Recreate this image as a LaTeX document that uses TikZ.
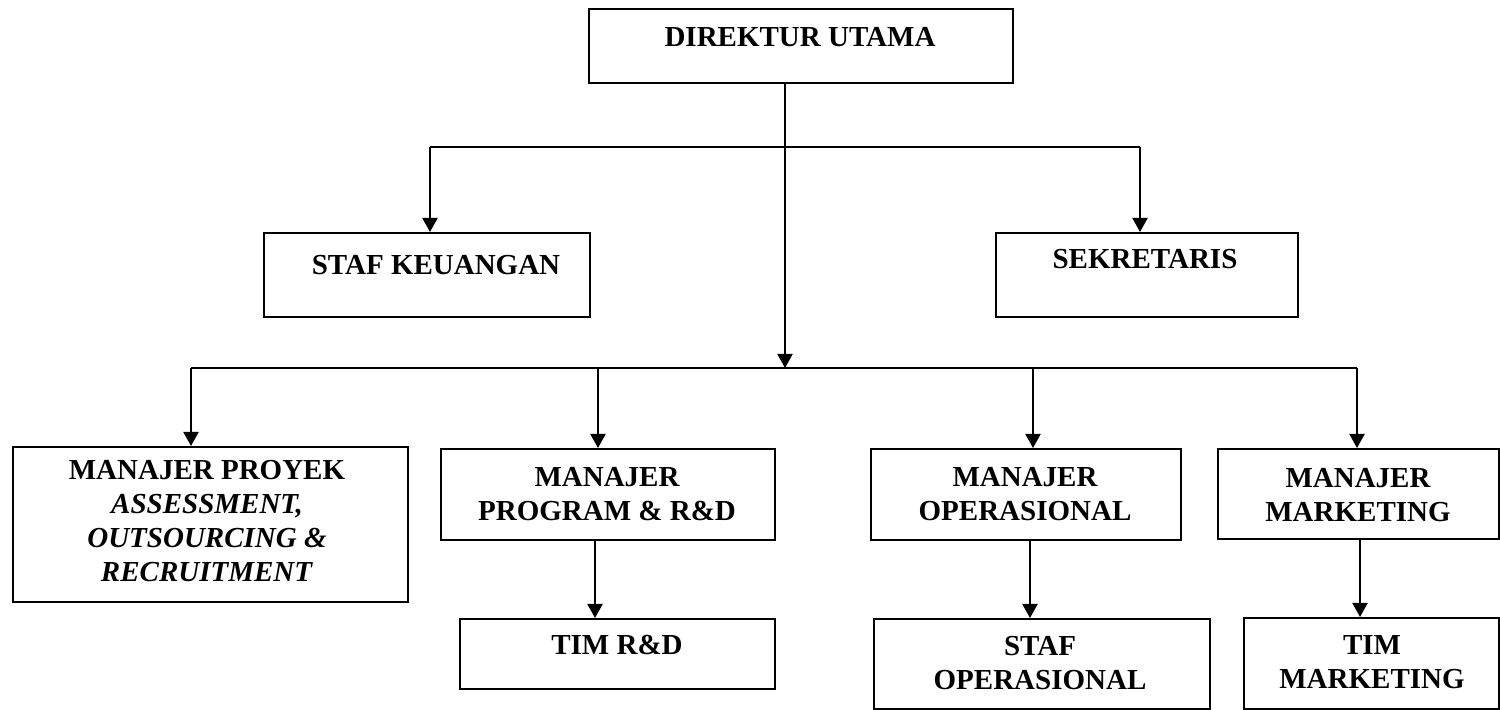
\documentclass[tikz,border=0pt]{standalone}
\usepackage{fontspec}
\setmainfont{Liberation Serif}
\usetikzlibrary{arrows.meta}
\begin{document}
\begin{tikzpicture}[x=0.5pt,y=-0.5pt,
  box/.style={draw, line width=1pt, inner sep=0pt, anchor=north west},
  lbl/.style={font=\bfseries\fontsize{14.5}{17}\selectfont, align=center, inner sep=0pt},
  conn/.style={line width=1pt},
  arr/.style={line width=1pt, -{Triangle[length=7pt,width=7.5pt]}}]
\useasboundingbox (0,0) rectangle (1500,710);

% boxes
\node[box, minimum width=212pt, minimum height=37pt] (du) at (588,8) {};
\node[box, minimum width=163pt, minimum height=42pt] (sk) at (263,232) {};
\node[box, minimum width=151pt, minimum height=42pt] (sek) at (995,232) {};
\node[box, minimum width=197.5pt, minimum height=77.5pt] (mp) at (12,446) {};
\node[box, minimum width=167pt, minimum height=45.5pt] (mpr) at (440,448) {};
\node[box, minimum width=157.5pt, minimum height=35pt] (tim) at (459,618) {};
\node[box, minimum width=155pt, minimum height=45.5pt] (mo) at (870,448) {};
\node[box, minimum width=168pt, minimum height=45pt] (so) at (873,618) {};
\node[box, minimum width=140.5pt, minimum height=45pt] (mm) at (1217,448) {};
\node[box, minimum width=127.5pt, minimum height=45.5pt] (tm) at (1243,617) {};

% texts
\node[lbl] (dut) at (800,37) {DIREKTUR UTAMA};
\node[lbl] (skt) at (436,265) {STAF KEUANGAN};
\node[lbl] (sekt) at (1145,259) {SEKRETARIS};
\node[lbl] (mpt) at (207,521) {MANAJER PROYEK\\ \textit{ASSESSMENT,}\\ \textit{OUTSOURCING \&}\\ \textit{RECRUITMENT}};
\node[lbl] (mprt) at (607,494) {MANAJER\\ PROGRAM \& R\&D};
\node[lbl] (timt) at (617,645) {TIM R\&D};
\node[lbl] (mot) at (1025,494) {MANAJER\\ OPERASIONAL};
\node[lbl] (sot) at (1040,663.5) {STAF\\ OPERASIONAL};
\node[lbl] (mmt) at (1358,495) {MANAJER\\ MARKETING};
\node[lbl] (tmt) at (1372,662.5) {TIM\\ MARKETING};

% junction coordinates
\coordinate (a) at (785,147);
\coordinate (b) at (785,368);
\coordinate (sl) at (430,147);
\coordinate (sr) at (1140,147);
\coordinate (b1) at (191,368);
\coordinate (b2) at (598,368);
\coordinate (b3) at (1033,368);
\coordinate (b4) at (1357,368);
\coordinate (c1) at (595,539);
\coordinate (c2) at (1030,539);
\coordinate (c3) at (1360,539);

% connectors
\draw[arr] (du.south -| a) -- (b);
\draw[conn] (sl) -- (sr);
\draw[arr] (sl) -- (sk.north -| sl);
\draw[arr] (sr) -- (sek.north -| sr);
\draw[conn] (b1) -- (b4);
\draw[arr] (b1) -- (mp.north -| b1);
\draw[arr] (b2) -- (mpr.north -| b2);
\draw[arr] (b3) -- (mo.north -| b3);
\draw[arr] (b4) -- (mm.north -| b4);
\draw[arr] (mpr.south -| c1) -- (tim.north -| c1);
\draw[arr] (mo.south -| c2) -- (so.north -| c2);
\draw[arr] (mm.south -| c3) -- (tm.north -| c3);
\end{tikzpicture}
\end{document}
